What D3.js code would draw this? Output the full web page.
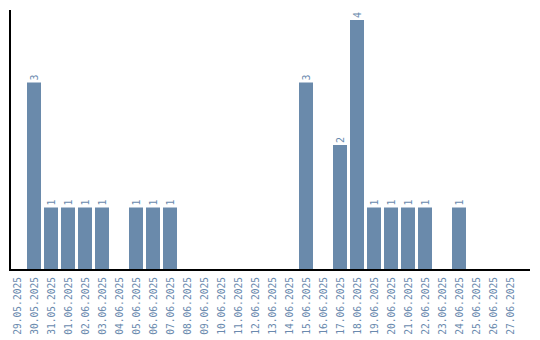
<!DOCTYPE html>
<html>
<head>
<meta charset="utf-8">
<script src="https://cdn.jsdelivr.net/npm/d3@7"></script>
<style>
  body { margin: 0; background: #fff; }
  svg { display: block; }
</style>
</head>
<body>
<div id="chart"></div>
<script>
// dates shown along the x axis
var dates = ["29.05.2025","30.05.2025","31.05.2025","01.06.2025","02.06.2025","03.06.2025",
    "04.06.2025","05.06.2025","06.06.2025","07.06.2025","08.06.2025","09.06.2025",
    "10.06.2025","11.06.2025","12.06.2025","13.06.2025","14.06.2025","15.06.2025",
    "16.06.2025","17.06.2025","18.06.2025","19.06.2025","20.06.2025","21.06.2025",
    "22.06.2025","23.06.2025","24.06.2025","25.06.2025","26.06.2025","27.06.2025"];
// count per day
var counts = [0,3,1,1,1,1, 0,1,1,1,0,0, 0,0,0,0,0,3, 0,2,4,1,1,1, 1,0,1,0,0,0];

var width = 540, height = 340;
var barColor = "#6a8aab";
var textColor = "#6a8aae";
var font = "'DejaVu Sans Mono', monospace";

var svg = d3.select("#chart").append("svg")
    .attr("width", width)
    .attr("height", height);

var data = dates.map(function(d, i){ return {date: d, value: counts[i]}; });

var x = d3.scaleBand()
    .domain(dates)
    .range([8.5, 518.5])
    .paddingInner(3/17)
    .paddingOuter(1.5/17);

var y = d3.scaleLinear()
    .domain([0, 4])
    .range([270, 20]);

// bars
svg.selectAll("rect.bar").data(data.filter(function(d){ return d.value > 0; }))
    .enter()
    .append("rect")
    .attr("class", "bar")
    .attr("x", function(d){ return x(d.date); })
    .attr("y", function(d){ return y(d.value); })
    .attr("width", x.bandwidth())
    .attr("height", function(d){ return y(0) - y(d.value); })
    .attr("fill", barColor);

// value labels, rotated on top of bars
svg.selectAll("text.val").data(data.filter(function(d){ return d.value > 0; }))
    .enter()
    .append("text")
    .attr("class", "val")
    .attr("transform", function(d){
        return "translate(" + (x(d.date) + x.bandwidth()/2 + 3.5) + "," + (y(d.value) - 2) + ") rotate(-90)";
    })
    .attr("text-anchor", "start")
    .style("font-family", font)
    .style("font-size", "10px")
    .style("fill", textColor)
    .text(function(d){ return d.value; });

// x axis
var xAxis = d3.axisBottom(x).tickSize(0).tickPadding(0);
var gx = svg.append("g")
    .attr("transform", "translate(0," + y(0) + ")")
    .call(xAxis);
gx.select(".domain").remove();
gx.append("line")
    .attr("x1", 10).attr("x2", 530)
    .attr("y1", 0).attr("y2", 0)
    .attr("stroke", "#000").attr("stroke-width", 2);
gx.selectAll(".tick text")
    .attr("transform", "translate(3.5,7) rotate(-90)")
    .attr("x", 0).attr("y", 0).attr("dy", 0)
    .attr("text-anchor", "end")
    .style("font-family", font)
    .style("font-size", "9.6px")
    .style("fill", textColor);

// y axis line
svg.append("line")
    .attr("x1", 10).attr("x2", 10)
    .attr("y1", 10).attr("y2", 271)
    .attr("stroke", "#000").attr("stroke-width", 2);
</script>
</body>
</html>
